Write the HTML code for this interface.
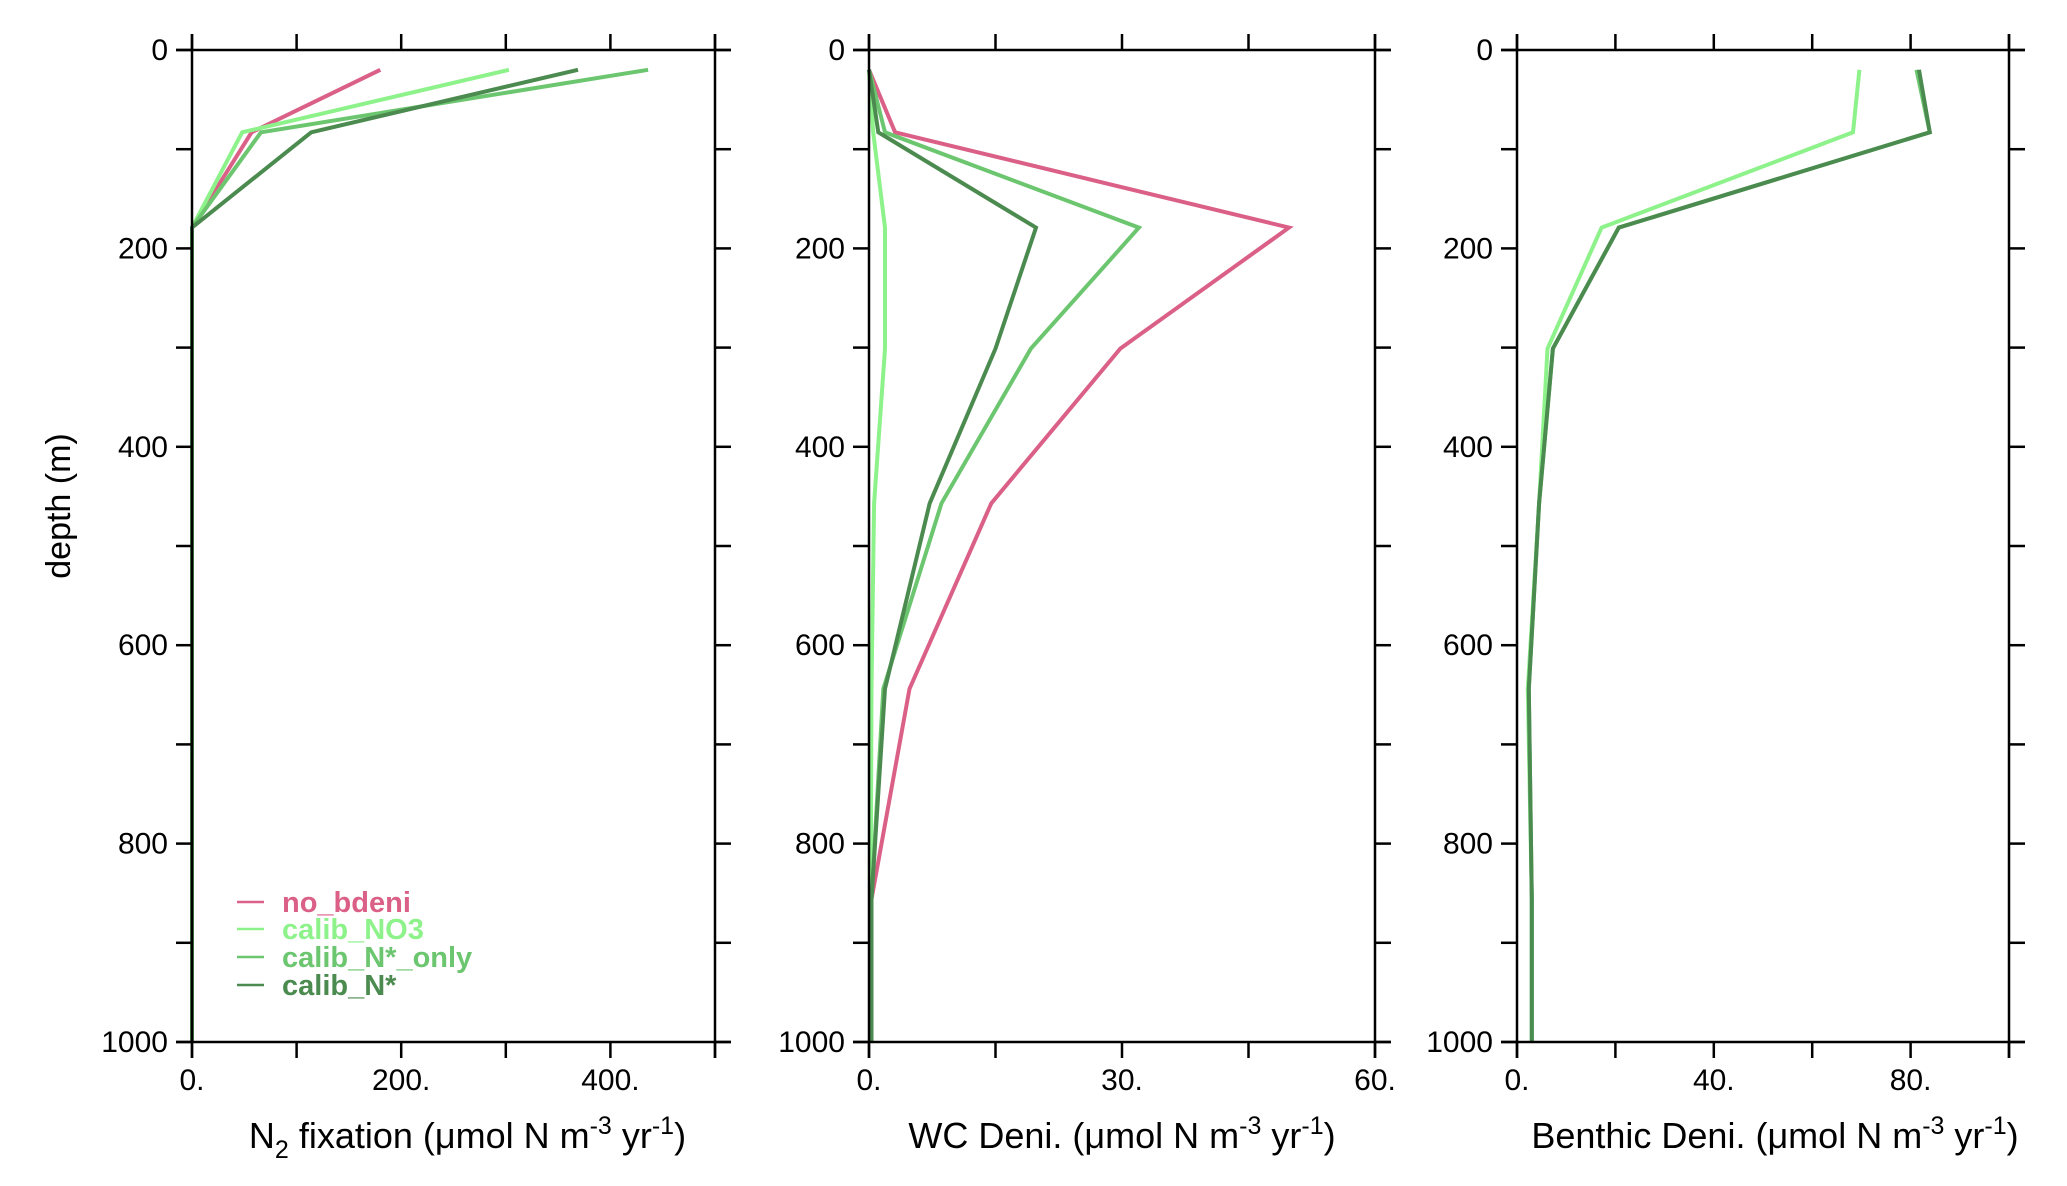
<!DOCTYPE html>
<html><head><meta charset="utf-8"><style>
html,body{margin:0;padding:0;background:#fff;}
svg{display:block;font-family:"Liberation Sans",sans-serif;}
</style></head><body>
<svg id="chart" width="2067" height="1186" viewBox="0 0 2067 1186" xmlns="http://www.w3.org/2000/svg">
<text transform="translate(70,506) rotate(-90)" text-anchor="middle" font-size="34">depth (m)</text>
</svg>
<script>
const depths=[20,83,179,301,457,644,856,1000];
const seriesNames=["no_bdeni","calib_NO3","calib_N*_only","calib_N*"];
const seriesColors=["#db6088","#8ef28b","#6cc66f","#4b8b4f"];
const n2fix_no_bdeni=[180,57,0,0,0,0,0,0];
const n2fix_calib_NO3=[303,48,0,0,0,0,0,0];
const n2fix_calib_Nstar_only=[436,66,0,0,0,0,0,0];
const n2fix_calib_Nstar=[369,114,0,0,0,0,0,0];
const wc_no_bdeni=[0,3.1,49.8,29.8,14.5,4.8,0.3,0.3];
const wc_calib_NO3=[0,0.5,1.9,1.9,0.6,0.3,0.2,0.2];
const wc_calib_Nstar_only=[0,1.9,32,19.2,8.6,1.7,0.3,0.3];
const wc_calib_Nstar=[0,1.1,19.8,15,7.2,1.9,0.3,0.3];
const ben_calib_NO3=[69.6,68.3,17.2,6.2,4.5,2.2,3,3];
const ben_calib_Nstar_only=[81.2,83.9,20.7,7.3,4.5,2.4,3,3];
const ben_calib_Nstar=[81.7,83.9,20.7,7.3,4.5,2.4,3,3];
const yTicks=[0,100,200,300,400,500,600,700,800,900,1000];
const yTickLabels=["0","","200","","400","","600","","800","","1000"];
const p1Ticks=[0,100,200,300,400,500], p1Labels=["0.","","200.","","400.",""];
const p2Ticks=[0,15,30,45,60], p2Labels=["0.","","30.","","60."];
const p3Ticks=[0,20,40,60,80,100], p3Labels=["0.","","40.","","80.",""];

const NS="http://www.w3.org/2000/svg";
const svg=document.getElementById('chart');
const yTop=50,yBot=1042;
function yS(d){return yTop+(yBot-yTop)*d/1000;}
function mk(tag,attrs,parent){const e=document.createElementNS(NS,tag);for(const k in attrs)e.setAttribute(k,attrs[k]);(parent||svg).appendChild(e);return e;}

const panels=[
 {name:"n2-fixation",x0:192,x1:715,max:500,ticks:p1Ticks,labels:p1Labels,title:"N2",
  series:[[0,n2fix_no_bdeni],[1,n2fix_calib_NO3],[2,n2fix_calib_Nstar_only],[3,n2fix_calib_Nstar]]},
 {name:"wc-deni",x0:869,x1:1375,max:60,ticks:p2Ticks,labels:p2Labels,title:"WC Deni.",
  series:[[0,wc_no_bdeni],[1,wc_calib_NO3],[2,wc_calib_Nstar_only],[3,wc_calib_Nstar]]},
 {name:"benthic-deni",x0:1517,x1:2009,max:100,ticks:p3Ticks,labels:p3Labels,title:"Benthic Deni.",
  series:[[1,ben_calib_NO3],[2,ben_calib_Nstar_only],[3,ben_calib_Nstar]]}
];
panels.forEach((p,pi)=>{
 const g=mk('g',{});
 
 
 const xS=v=>p.x0+(p.x1-p.x0)*v/p.max;
 p.series.forEach(([si,vals])=>{
  const pts=vals.map((v,i)=>xS(v).toFixed(1)+','+yS(depths[i]).toFixed(1)).join(' ');
  const l=mk('polyline',{points:pts,fill:'none',stroke:seriesColors[si],'stroke-width':4,'stroke-linejoin':'miter'},g);
  
  
 });
 const ax=mk('g',{stroke:'#000','stroke-width':2.5,fill:'none'},g);
 
 
 mk('line',{x1:p.x0-16,y1:yTop,x2:p.x1+16,y2:yTop},ax);
 mk('line',{x1:p.x0-16,y1:yBot,x2:p.x1+16,y2:yBot},ax);
 mk('line',{x1:p.x0,y1:yTop-16,x2:p.x0,y2:yBot+16},ax);
 mk('line',{x1:p.x1,y1:yTop-16,x2:p.x1,y2:yBot+16},ax);
 p.ticks.forEach((t,i)=>{
  const x=xS(t);
  mk('line',{x1:x,y1:yTop-16,x2:x,y2:yTop},ax);
  mk('line',{x1:x,y1:yBot,x2:x,y2:yBot+16},ax);
  if(p.labels[i]){const tx=mk('text',{x:x,y:yBot+48,'text-anchor':'middle','font-size':30,fill:'#000',stroke:'none'},g);tx.textContent=p.labels[i];
   }
 });
 yTicks.forEach((t,i)=>{
  const y=yS(t);
  mk('line',{x1:p.x0-16,y1:y,x2:p.x0,y2:y},ax);
  mk('line',{x1:p.x1,y1:y,x2:p.x1+16,y2:y},ax);
  if(yTickLabels[i]){const tx=mk('text',{x:p.x0-24,y:y+10,'text-anchor':'end','font-size':30,fill:'#000'},g);tx.textContent=yTickLabels[i];
   }
 });
 const cx=(p.x0+p.x1)/2+(pi==2?12:(pi==0?14:0));
 const tt=mk('text',{x:cx,y:1148,'text-anchor':'middle','font-size':36,fill:'#000'},g);
 
 
 let html='';
 if(p.title==="N2") html='N<tspan font-size="25" dy="10">2</tspan><tspan dy="-10"> fixation (μmol N m</tspan>';
 else html=p.title+' (μmol N m';
 html+='<tspan font-size="25" dy="-14">-3</tspan><tspan dy="14"> yr</tspan><tspan font-size="25" dy="-14">-1</tspan><tspan dy="14">)</tspan>';
 tt.innerHTML=html;
});
const lg=mk('g',{});


const legY=[902,929,957,985];
seriesNames.forEach((nm,i)=>{
 const e=mk('g',{},lg);
 
 
 mk('line',{x1:237,y1:legY[i],x2:264,y2:legY[i],stroke:seriesColors[i],'stroke-width':2.5},e);
 const t=mk('text',{x:282,y:legY[i]+10,'font-size':29,fill:seriesColors[i],'font-weight':'bold'},e);
 t.textContent=nm;
});
</script>
</body></html>
